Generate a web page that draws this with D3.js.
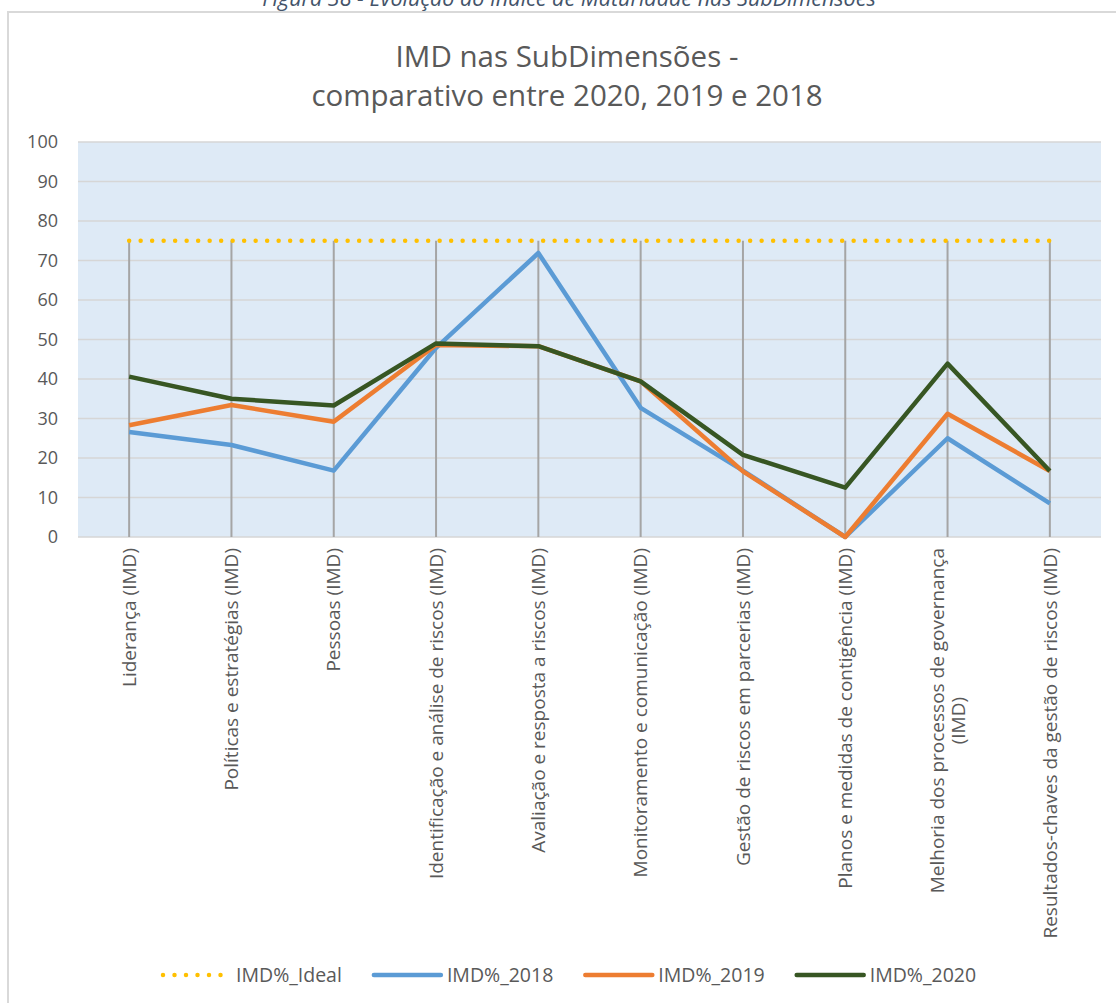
<!DOCTYPE html>
<html>
<head>
<meta charset="utf-8">
<script src="https://cdn.jsdelivr.net/npm/d3@7"></script>
<style>
  body { margin: 0; background: #fff; }
  svg { display: block; font-family: "Open Sans", sans-serif; }
</style>
</head>
<body>
<svg id="chart" width="1116" height="1003"></svg>
<script>
// Chart values
const categories = [
  "Liderança (IMD)",
  "Políticas e estratégias (IMD)",
  "Pessoas (IMD)",
  "Identificação e análise de riscos (IMD)",
  "Avaliação e resposta a riscos (IMD)",
  "Monitoramento e comunicação (IMD)",
  "Gestão de riscos em parcerias (IMD)",
  "Planos e medidas de contigência (IMD)",
  "Melhoria dos processos de governança\n(IMD)",
  "Resultados-chaves da gestão de riscos (IMD)"
];
const imdIdeal = [75, 75, 75, 75, 75, 75, 75, 75, 75, 75];
const imd2018 = [26.6, 23.3, 16.8, 47.9, 71.9, 32.7, 16.8, 0, 25.0, 8.5];
const imd2019 = [28.3, 33.4, 29.2, 48.6, 48.3, 39.4, 16.6, 0, 31.2, 16.7];
const imd2020 = [40.6, 35.0, 33.3, 49.0, 48.3, 39.4, 20.8, 12.5, 43.9, 16.7];
const yTicks = [0, 10, 20, 30, 40, 50, 60, 70, 80, 90, 100];
const seriesNames = ["IMD%_Ideal", "IMD%_2018", "IMD%_2019", "IMD%_2020"];

const colors = {
  "IMD%_Ideal": "#ffc000",
  "IMD%_2018": "#5b9bd5",
  "IMD%_2019": "#ed7d31",
  "IMD%_2020": "#375623"
};

const series = [
  { name: "IMD%_Ideal", values: imdIdeal },
  { name: "IMD%_2018", values: imd2018 },
  { name: "IMD%_2019", values: imd2019 },
  { name: "IMD%_2020", values: imd2020 }
];

const plot = { left: 78, right: 1101, top: 142, bottom: 537 };
const textColor = "#595959";
const labelSize = 19;

const svg = d3.select("#chart");

// outer frame of the figure
svg.append("rect")
  .attr("x", 8).attr("y", 12)
  .attr("width", 1130).attr("height", 1010)
  .attr("fill", "#fff")
  .attr("stroke", "#d9d9d9")
  .attr("stroke-width", 2);

// caption above the frame (cut at the top, as in the reference)
svg.append("text")
  .attr("x", 569).attr("y", 6)
  .attr("text-anchor", "middle")
  .attr("font-style", "italic")
  .attr("font-size", 21.5)
  .attr("fill", "#44546a")
  .text("Figura 38 - Evolução do Índice de Maturidade nas SubDimensões");

// title
const title = svg.append("text")
  .attr("text-anchor", "middle")
  .attr("font-size", 29.5)
  .attr("fill", textColor);
title.append("tspan").attr("x", 567).attr("y", 67).text("IMD nas SubDimensões -");
title.append("tspan").attr("x", 567).attr("y", 106).text("comparativo entre 2020, 2019 e 2018");

const x = d3.scaleBand()
  .domain(categories)
  .range([plot.left, plot.right]);

const y = d3.scaleLinear()
  .domain([0, 100])
  .range([plot.bottom, plot.top]);

const cx = d => x(d) + x.bandwidth() / 2;

// plot background
svg.append("rect")
  .attr("x", plot.left).attr("y", plot.top)
  .attr("width", plot.right - plot.left)
  .attr("height", plot.bottom - plot.top)
  .attr("fill", "#deeaf6");

// gridlines
svg.append("g")
  .selectAll("line")
  .data(yTicks)
  .enter()
  .append("line")
  .attr("x1", plot.left).attr("x2", plot.right)
  .attr("y1", d => y(d)).attr("y2", d => y(d))
  .attr("stroke", "#d6d6d6")
  .attr("stroke-width", 1.5);

// y axis labels
const yAxis = svg.append("g")
  .attr("transform", `translate(${plot.left},0)`)
  .call(d3.axisLeft(y).tickValues(yTicks).tickSize(0).tickPadding(20));
yAxis.select(".domain").remove();
yAxis.selectAll("text")
  .attr("font-family", "Open Sans, sans-serif")
  .attr("font-size", 18)
  .attr("fill", textColor);

// drop lines from the highest point of each category down to the axis
svg.append("g")
  .selectAll("line")
  .data(categories)
  .enter()
  .append("line")
  .attr("x1", d => cx(d)).attr("x2", d => cx(d))
  .attr("y1", (d, i) => y(d3.max(series, s => s.values[i])))
  .attr("y2", y(0))
  .attr("stroke", "#a5a5a5")
  .attr("stroke-width", 2);

// series lines
const line = d3.line()
  .x((v, i) => cx(categories[i]))
  .y(v => y(v));

series.forEach(s => {
  const path = svg.append("path")
    .datum(s.values)
    .attr("d", line)
    .attr("fill", "none")
    .attr("stroke", colors[s.name])
    .attr("stroke-width", 4.5)
    .attr("stroke-linejoin", "round");
  if (s.name === "IMD%_Ideal") {
    path.attr("stroke-linecap", "round")
      .attr("stroke-dasharray", "0 11.5");
  }
});

// category labels, rotated, reading upward, ending just below the plot
const labelG = svg.append("g");
categories.forEach(cat => {
  const lines = cat.split("\n");
  const g = labelG.append("g")
    .attr("transform", `translate(${cx(cat)},${plot.bottom + 11}) rotate(-90)`);
  const lineH = 21;
  const offset = -(lines.length - 1) * lineH / 2;
  const first = g.append("text")
    .attr("x", 0)
    .attr("y", offset)
    .attr("dy", "0.35em")
    .attr("text-anchor", "end")
    .attr("font-size", labelSize)
    .attr("fill", textColor)
    .text(lines[0]);
  const w = first.node().getComputedTextLength();
  for (let k = 1; k < lines.length; k++) {
    g.append("text")
      .attr("x", -w / 2)
      .attr("y", offset + k * lineH)
      .attr("dy", "0.35em")
      .attr("text-anchor", "middle")
      .attr("font-size", labelSize)
      .attr("fill", textColor)
      .text(lines[k]);
  }
});

// legend
const legend = svg.append("g").attr("transform", "translate(0,975)");
let lx = 163;
seriesNames.forEach(name => {
  const sample = legend.append("line")
    .attr("x1", lx).attr("x2", lx + 67)
    .attr("y1", 0).attr("y2", 0)
    .attr("stroke", colors[name])
    .attr("stroke-width", 4.5)
    .attr("stroke-linecap", "round");
  if (name === "IMD%_Ideal") sample.attr("stroke-dasharray", "0 11.5");
  const t = legend.append("text")
    .attr("x", lx + 73).attr("y", 0)
    .attr("dy", "0.35em")
    .attr("font-size", 19.5)
    .attr("fill", textColor)
    .text(name);
  lx += 73 + t.node().getComputedTextLength() + 32;
});
</script>
</body>
</html>
